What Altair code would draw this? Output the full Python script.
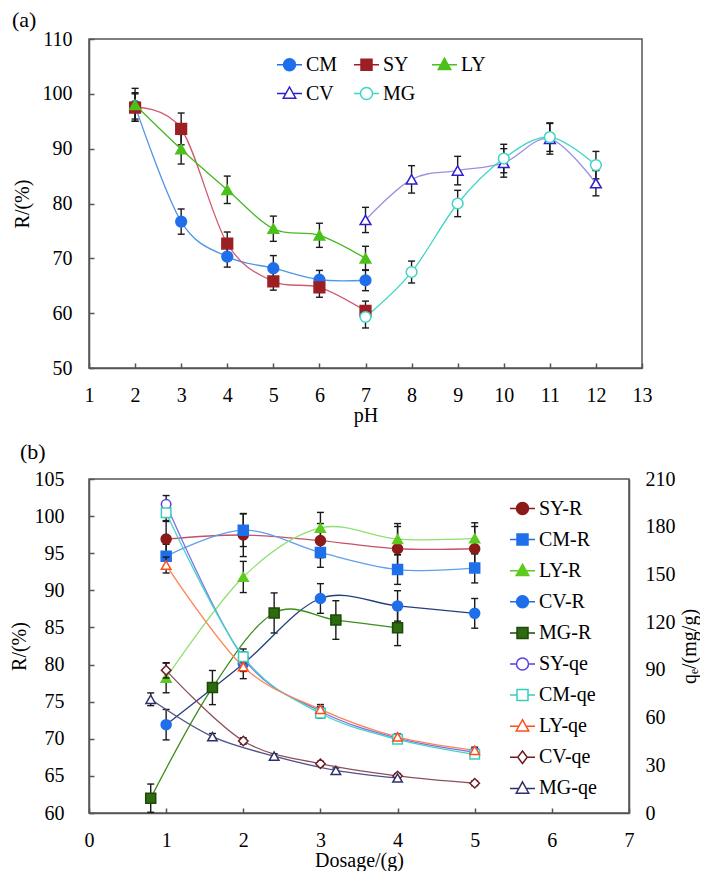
import altair as alt
import pandas as pd

FONT = "Liberation Serif, Times New Roman, Times, DejaVu Serif, serif"
ERR = "#1a1a1a"

# ---------------- Panel (a): removal rate R vs pH ----------------
a_series = ["CM", "SY", "LY", "CV", "MG"]
ph_acid = [2, 3, 4, 5, 6, 7]
ph_base = [7, 8, 9, 10, 11, 12]
cm_r = [97.8, 76.7, 70.3, 68.2, 66.1, 66.0]
cm_e = [2.4, 2.3, 1.9, 2.3, 1.7, 1.9]
sy_r = [97.5, 93.6, 72.7, 65.8, 64.7, 60.4]
sy_e = [2.5, 2.9, 2.1, 1.6, 1.8, 1.8]
ly_r = [98.0, 89.9, 82.5, 75.4, 74.2, 70.0]
ly_e = [3.0, 2.7, 2.5, 2.3, 2.2, 2.2]
cv_r = [77.0, 84.4, 86.0, 87.4, 91.8, 83.7]
cv_e = [2.3, 2.5, 2.6, 2.6, 2.8, 2.3]
mg_r = [59.3, 67.5, 80.0, 88.2, 92.1, 87.0]
mg_e = [2.0, 2.0, 2.4, 2.6, 2.6, 2.5]
ph_ticks = list(range(1, 14))
ra_ticks = [50, 60, 70, 80, 90, 100, 110]

a_line_col = ["#4F95E8", "#D05A70", "#47B823", "#9C8FE0", "#3DD6C4"]
a_line_w = [1.3, 1.3, 2.0, 1.3, 1.3]
a_mk_stroke = ["#1F6FEB", "#9C1F24", "#4BC01A", "#2E1ECC", "#3DD6C4"]
a_mk_fill = ["#1F6FEB", "#9C1F24", "#4BC01A", "white", "white"]
a_mk_shape = ["circle", "square", "triangle-up", "triangle-up", "circle"]

# ---------------- Panel (b): R and qe vs dosage ----------------
b_series = ["SY-R", "CM-R", "LY-R", "CV-R", "MG-R",
            "SY-qe", "CM-qe", "LY-qe", "CV-qe", "MG-qe"]
dose = [1, 2, 3, 4, 5]
dose_mg = [0.8, 1.6, 2.4, 3.2, 4.0]
syR = [96.9, 97.45, 96.7, 95.6, 95.6]
syR_e = [2.5, 2.9, 2.3, 3.0, 3.0]
cmR = [94.6, 98.1, 95.1, 92.8, 93.0]
cmR_e = [1.6, 2.2, 2.0, 2.0, 2.0]
lyR = [78.2, 91.8, 98.4, 96.9, 97.0]
lyR_e = [2.0, 2.1, 2.1, 2.1, 2.1]
cvR = [71.9, 80.1, 88.9, 87.9, 86.9]
cvR_e = [2.05, 2.0, 2.0, 2.05, 2.0]
mgR = [62.0, 76.9, 86.95, 86.0, 84.95]
mgR_e = [1.9, 2.3, 2.7, 2.6, 2.4]
syQ = [194.1, 97.6, 64.0, 47.1, 38.2]
syQ_e = [5.5, 3.0, 3.0, 2.0, 2.0]
cmQ = [188.8, 98.3, 62.7, 46.3, 36.9]
cmQ_e = [5.5, 3.0, 3.0, 2.0, 2.0]
lyQ = [155.9, 92.0, 65.2, 47.8, 39.4]
lyQ_e = [5.0, 3.0, 3.0, 2.0, 2.0]
cvQ = [89.7, 45.3, 31.0, 23.3, 18.7]
cvQ_e = [4.8, 2.0, 1.5, 1.5, 1.5]
mgQ = [71.5, 48.0, 35.8, 26.8, 22.0]
mgQ_e = [4.0, 2.0, 1.5, 1.5, 1.5]
dose_ticks = list(range(0, 8))
rb_ticks = [60, 65, 70, 75, 80, 85, 90, 95, 100, 105]
qe_ticks = [0, 30, 60, 90, 120, 150, 180, 210]

b_line_col = ["#C45168", "#5E9FEE", "#8FE070", "#23407E", "#3E8E1E",
              "#7F6FE8", "#45D4C8", "#FF8055", "#8E5058", "#50508A"]
b_line_w = [1.3, 1.3, 1.3, 2.0, 2.0, 1.3, 1.3, 1.3, 1.3, 1.3]
b_mk_stroke = ["#8B1A1A", "#1F6FEB", "#5CCB1F", "#1F6FEB", "#1E4A08",
               "#5B3FE0", "#37CDBD", "#FF4D1A", "#6E1C26", "#2F2F6A"]
b_mk_fill = ["#8B1A1A", "#1F6FEB", "#5CCB1F", "#1F6FEB", "#2E6A10",
             "white", "white", "white", "white", "white"]
b_mk_shape = ["circle", "square", "triangle-up", "circle", "square",
              "circle", "square", "triangle-up", "diamond", "triangle-up"]

# legend symbols: a short line with the marker on it
PATH = {
    "circle": "M-1,0L-0.48,0M0.48,0L1,0M-0.48,0A0.48,0.48 0 1,0 0.48,0A0.48,0.48 0 1,0 -0.48,0Z",
    "square": "M-1,0L-0.44,0M0.44,0L1,0M-0.44,-0.44L0.44,-0.44L0.44,0.44L-0.44,0.44Z",
    "triangle-up": "M-1,0L-0.29,0M0.29,0L1,0M0,-0.52L0.5,0.38L-0.5,0.38Z",
    "diamond": "M-1,0L-0.38,0M0.38,0L1,0M0,-0.5L0.38,0L0,0.5L-0.38,0Z",
}


def long_df(names, xs_list, ys_list, es_list):
    rows = []
    for n, xs, ys, es in zip(names, xs_list, ys_list, es_list):
        for x, y, e in zip(xs, ys, es):
            rows.append({"s": n, "x": x, "y": y, "e": e})
    return pd.DataFrame(rows)


dfA = long_df(a_series, [ph_acid, ph_acid, ph_acid, ph_base, ph_base],
              [cm_r, sy_r, ly_r, cv_r, mg_r], [cm_e, sy_e, ly_e, cv_e, mg_e])
dfR = long_df(b_series[:5], [dose, dose, dose, dose, dose_mg],
              [syR, cmR, lyR, cvR, mgR], [syR_e, cmR_e, lyR_e, cvR_e, mgR_e])
dfQ = long_df(b_series[5:], [dose, dose, dose, dose, dose_mg],
              [syQ, cmQ, lyQ, cvQ, mgQ], [syQ_e, cmQ_e, lyQ_e, cvQ_e, mgQ_e])


def data_layers(df, xs, ys, xaxis, yaxis, dom, line_col, line_w,
                mk_stroke, mk_fill, mk_shape, psize):
    X = alt.X("x:Q", scale=xs, axis=xaxis)

    def Y(f):
        return alt.Y(f, scale=ys, axis=yaxis)

    base = alt.Chart(df)
    eb = base.transform_calculate(lo="datum.y - datum.e", hi="datum.y + datum.e")
    rule = eb.mark_rule(color=ERR, strokeWidth=1.4, clip=True).encode(
        x=X, y=Y("lo:Q"), y2="hi:Q")
    caps = eb.transform_fold(["lo", "hi"], as_=["k", "v"]).mark_tick(
        orient="horizontal", size=7, thickness=1.4, color=ERR, clip=True,
        opacity=1).encode(x=X, y=Y("v:Q"))
    line = base.mark_line(interpolate="cardinal").encode(
        x=X, y=Y("y:Q"),
        color=alt.Color("s:N", scale=alt.Scale(domain=dom, range=line_col), legend=None),
        strokeWidth=alt.StrokeWidth("s:N", scale=alt.Scale(domain=dom, range=line_w),
                                    legend=None))
    pts = base.mark_point(opacity=1, size=psize, strokeWidth=1.5).encode(
        x=X, y=Y("y:Q"),
        shape=alt.Shape("s:N", scale=alt.Scale(domain=dom, range=mk_shape), legend=None),
        stroke=alt.Stroke("s:N", scale=alt.Scale(domain=dom, range=mk_stroke), legend=None),
        fill=alt.Fill("s:N", scale=alt.Scale(domain=dom, range=mk_fill), legend=None))
    return alt.layer(rule, caps, line, pts)


def legend_layer(dom, kinds, stroke_cols, fill_cols, legend):
    paths = [PATH[k] for k in kinds]
    return alt.Chart(pd.DataFrame({"s": dom})).transform_filter("false").mark_point(
        opacity=1, size=625, strokeWidth=1.5).encode(
        shape=alt.Shape("s:N", scale=alt.Scale(domain=dom, range=paths), legend=legend),
        stroke=alt.Stroke("s:N", scale=alt.Scale(domain=dom, range=stroke_cols), legend=legend),
        fill=alt.Fill("s:N", scale=alt.Scale(domain=dom, range=fill_cols), legend=legend))


# ---- panel (a) ----
xsA = alt.Scale(domain=[1, 13], nice=False, zero=False)
ysA = alt.Scale(domain=[50, 110], nice=False, zero=False)
xaxA = alt.Axis(values=ph_ticks, title="pH", labelPadding=17, titlePadding=0,
                ticks=False, tickSize=0, gridDash=[0, 324, 5, 3000],
                labelFlush=False, labelOverlap=False, format="d")
yaxA = alt.Axis(values=ra_ticks, title="R/(%)", labelPadding=17, titlePadding=10,
                ticks=False, tickSize=0, gridDash=[5, 3000],
                labelOverlap=False, format="d")
legA = alt.Legend(title=None, orient="none", legendX=187, legendY=12, columns=3,
                  direction="horizontal", columnPadding=13, rowPadding=5,
                  labelOffset=3, symbolSize=625, symbolStrokeWidth=1.5)

pa = alt.layer(
    data_layers(dfA, xsA, ysA, xaxA, yaxA, a_series, a_line_col, a_line_w,
                a_mk_stroke, a_mk_fill, a_mk_shape, 115),
    legend_layer(a_series, a_mk_shape, a_mk_stroke, a_mk_fill, legA),
).resolve_scale(shape="independent", stroke="independent", fill="independent").properties(
    width=553, height=329,
    title=alt.TitleParams("(a)", anchor="start", offset=-3, fontSize=22,
                          font=FONT, fontWeight="normal"))

# ---- panel (b) ----
xsB = alt.Scale(domain=[0, 7], nice=False, zero=False)
ysR = alt.Scale(domain=[60, 105], nice=False, zero=False)
ysQ = alt.Scale(domain=[0, 210], nice=False, zero=False)
xaxB = alt.Axis(values=dose_ticks, title="Dosage/(g)", labelPadding=17, titlePadding=0,
                ticks=False, tickSize=0, gridDash=[0, 329, 5, 3000],
                labelFlush=False, labelOverlap=False, format="d")
yaxL = alt.Axis(values=rb_ticks, title="R/(%)", labelPadding=25, titlePadding=5,
                ticks=False, tickSize=0, gridDash=[5, 3000],
                labelOverlap=False, format="d")
yaxR = alt.Axis(values=qe_ticks, title="qₑ/(mg/g)", orient="right", labelPadding=16,
                titlePadding=4, titleAngle=270, titleBaseline="top", ticks=False,
                tickSize=0, gridDash=[5, 3000], labelOverlap=False, format="d")
legB = alt.Legend(title=None, orient="none", legendX=420, legendY=16, columns=1,
                  rowPadding=7.1, labelOffset=3, symbolSize=625, symbolStrokeWidth=1.5)

Rg = data_layers(dfR, xsB, ysR, xaxB, yaxL, b_series, b_line_col, b_line_w,
                 b_mk_stroke, b_mk_fill, b_mk_shape, 100)
Qg = data_layers(dfQ, xsB, ysQ, xaxB, yaxR, b_series, b_line_col, b_line_w,
                 b_mk_stroke, b_mk_fill, b_mk_shape, 90)
pb = alt.layer(
    Rg, Qg, legend_layer(b_series, b_mk_shape, b_mk_stroke, b_mk_fill, legB)
).resolve_scale(y="independent", shape="independent", stroke="independent",
                fill="independent", color="independent",
                strokeWidth="independent").properties(
    width=540, height=334,
    title=alt.TitleParams("(b)", anchor="start", offset=5, dx=11, fontSize=22,
                          font=FONT, fontWeight="normal"))

chart = alt.vconcat(pa, pb, spacing=14).resolve_scale(
    x="independent", y="independent", color="independent", shape="independent",
    stroke="independent", fill="independent", strokeWidth="independent"
).properties(
    padding={"left": 0, "top": 0, "right": 0, "bottom": 0},
    background="white",
).configure_view(
    stroke="#555", strokeWidth=1.5
).configure_axis(
    labelFont=FONT, titleFont=FONT, labelFontSize=20, titleFontSize=20,
    titleFontWeight="normal", labelColor="black", titleColor="black",
    domainColor="#555", domainWidth=1.5, grid=True, gridColor="#555", gridWidth=1.5,
).configure_legend(
    labelFont=FONT, labelFontSize=20, labelColor="black"
).configure_title(
    font=FONT, fontSize=22, fontWeight="normal", color="black"
)

chart.save("out.html", embed_options={"renderer": "svg", "actions": False})
